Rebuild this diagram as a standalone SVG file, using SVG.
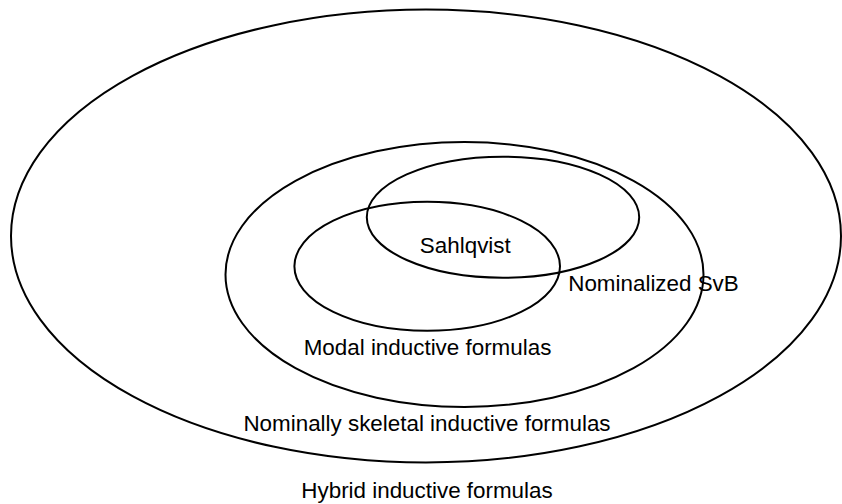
<svg xmlns="http://www.w3.org/2000/svg" width="842" height="504" viewBox="0 0 842 504">
<style>
.set{fill:none;stroke:#000;stroke-width:2}
.lbl{font-family:"Liberation Sans",Arial,sans-serif;font-size:22.4px;fill:#000;text-anchor:middle}
</style>
<rect width="842" height="504" fill="#fff"/>
<g id="hybrid"><ellipse class="set" cx="426" cy="236" rx="415" ry="226.5"/><text class="lbl" x="427" y="498">Hybrid inductive formulas</text></g>
<g id="nominally-skeletal"><ellipse class="set" cx="464.5" cy="274.5" rx="239" ry="132.5"/><text class="lbl" x="427" y="431">Nominally skeletal inductive formulas</text></g>
<g id="nominalized-svb"><ellipse class="set" cx="503" cy="217.2" rx="136.2" ry="60.5"/><text class="lbl" x="653.5" y="291">Nominalized SvB</text></g>
<g id="modal-inductive"><ellipse class="set" cx="427.2" cy="266.3" rx="132.8" ry="64.5"/><text class="lbl" x="427.5" y="355">Modal inductive formulas</text></g>
<g id="sahlqvist"><text class="lbl" x="465.3" y="253">Sahlqvist</text></g>
<g id="connectors"/>
</svg>
